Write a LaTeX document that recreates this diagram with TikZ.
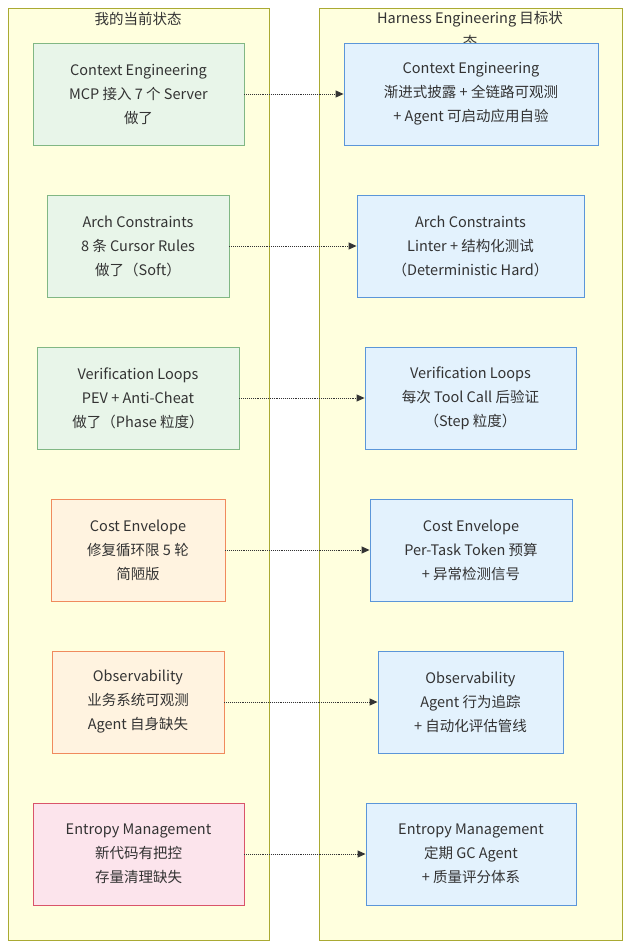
\documentclass[tikz,border=0pt]{standalone}
\usepackage{fontspec}
\setmainfont{Noto Sans CJK SC}
\usetikzlibrary{arrows.meta}
\definecolor{clfill}{HTML}{FFFFDE}
\definecolor{clline}{HTML}{AAAA33}
\definecolor{grfill}{HTML}{E8F5E9}
\definecolor{grline}{HTML}{81B784}
\definecolor{orfill}{HTML}{FFF3E0}
\definecolor{orline}{HTML}{F08A5D}
\definecolor{pkfill}{HTML}{FCE4EC}
\definecolor{pkline}{HTML}{D9546A}
\definecolor{blfill}{HTML}{E3F2FD}
\definecolor{blline}{HTML}{5B96D9}
\definecolor{txt}{HTML}{333333}
\tikzset{
  every node/.style={text=txt,font=\fontsize{14.5}{24}\selectfont,align=center,inner sep=0pt},
  box/.style={draw,line width=0.9pt,minimum height=102pt},
  cur/.style={box,fill=grfill,draw=grline},
  warn/.style={box,fill=orfill,draw=orline},
  bad/.style={box,fill=pkfill,draw=pkline},
  goal/.style={box,fill=blfill,draw=blline},
  link/.style={densely dotted,line width=0.9pt,draw=txt,-{Triangle[length=8pt,width=7pt]}}
}
\begin{document}
\begin{tikzpicture}[x=1pt,y=-1pt]
  \useasboundingbox (0,0) rectangle (630,948);
  \draw[fill=clfill,draw=clline,line width=0.8pt] (8,8) rectangle (269,940);
  \draw[fill=clfill,draw=clline,line width=0.8pt] (319,8) rectangle (622,940);
  \node (tl) at (138,19) {我的当前状态};
  \node (tr) at (470,30) {Harness Engineering 目标状\\态};
  % left column
  \node[cur,minimum width=211pt] (c1) at (138.5,94) {Context Engineering\\MCP 接入 7 个 Server\\做了};
  \node[cur,minimum width=182pt] (c2) at (138,246) {Arch Constraints\\8 条 Cursor Rules\\做了（Soft）};
  \node[cur,minimum width=202pt] (c3) at (138,398) {Verification Loops\\PEV + Anti-Cheat\\做了（Phase 粒度）};
  \node[warn,minimum width=174pt] (c4) at (138,550) {Cost Envelope\\修复循环限 5 轮\\简陋版};
  \node[warn,minimum width=172pt] (c5) at (138,702) {Observability\\业务系统可观测\\Agent 自身缺失};
  \node[bad,minimum width=211pt] (c6) at (138.5,854) {Entropy Management\\新代码有把控\\存量清理缺失};
  % right column
  \node[goal,minimum width=254pt] (g1) at (471,94) {Context Engineering\\渐进式披露 + 全链路可观测\\+ Agent 可启动应用自验};
  \node[goal,minimum width=227pt] (g2) at (470.5,246) {Arch Constraints\\Linter + 结构化测试\\（Deterministic Hard）};
  \node[goal,minimum width=211pt] (g3) at (470.5,398) {Verification Loops\\每次 Tool Call 后验证\\（Step 粒度）};
  \node[goal,minimum width=202pt] (g4) at (471,550) {Cost Envelope\\Per-Task Token 预算\\+ 异常检测信号};
  \node[goal,minimum width=185pt] (g5) at (470.5,702) {Observability\\Agent 行为追踪\\+ 自动化评估管线};
  \node[goal,minimum width=210pt] (g6) at (471,854) {Entropy Management\\定期 GC Agent\\+ 质量评分体系};
  \foreach \i in {1,...,6}
    \draw[link] (c\i) -- (g\i);
\end{tikzpicture}
\end{document}
